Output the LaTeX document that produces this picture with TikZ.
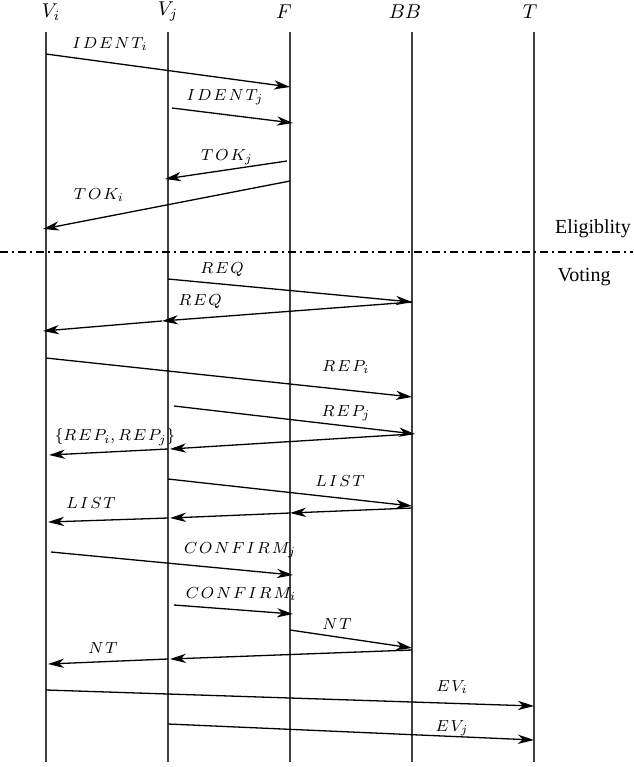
\documentclass[tikz,border=0pt]{standalone}
\usepackage{fontspec}
\usetikzlibrary{arrows.meta,calc}
\newfontfamily\phasefont{Liberation Serif}
\newcommand{\ls}{\mkern2mu}
\tikzset{
    life/.style={line width=0.6pt, black!75},
    msg/.style={line width=0.65pt, -{Stealth[length=8pt, width=4.6pt, inset=2.4pt]}},
    lbl/.style={font=\fontsize{8.3}{10}\selectfont, inner sep=1pt},
    phase/.style={font=\phasefont, inner sep=1pt}
}
\begin{document}
\begin{tikzpicture}[x=0.5pt, y=-0.5pt]
    \useasboundingbox (0,0) rectangle (633,767);
    \foreach \n/\x/\dx/\lab in {Vi/46/5/V_i, Vj/168/0/V_j, F/290/-6/F, BB/412/-7/BB, T/534/-4/T} {
        \node (\n) at (\x,12) {};
        \node (\n lab) at (\x+\dx,12) {$\lab$};
        \draw[life] (\x,32) -- (\x,762);
    }
    \draw[line width=0.6pt, dash pattern=on 4pt off 2pt on 1pt off 2pt] (0,252) -- (633,252);
    \node[phase] (elig) at (593,229) {Eligiblity};
    \node[phase] (vote) at (584,277) {Voting};
    \foreach \a/\da/\ya/\b/\db/\yb in {
            Vi/0/54/F/0/87, Vj/4/108/F/3/123, F/-3/161/Vj/-3/179, F/0/181/Vi/-3/229,
            Vj/0/279/BB/0/302, BB/0/302/Vj/-6/321, Vj/-6/321/Vi/-3/331,
            Vi/0/358/BB/0/397, Vj/6/406/BB/3/434, BB/0/434/Vj/2/449, Vj/0/449/Vi/3/455,
            Vj/0/479/BB/0/506, BB/0/508/F/0/513, F/0/513/Vj/2/518, Vj/0/518/Vi/2/522,
            Vi/5/552/F/3/575, Vj/6/605/F/3/614, F/0/630/BB/0/648, BB/0/650/Vj/2/659,
            Vj/0/659/Vi/2/664, Vi/0/690/T/0/706, Vj/0/724/T/0/740} {
        \draw[msg] ($(\a |- 0,\ya)+(\da,0)$) -- ($(\b |- 0,\yb)+(\db,0)$);
    }
    \node[lbl] (IDi) at (110,44) {$I\ls D\ls E\ls N\ls T_i$};
    \node[lbl] (IDj) at (225,97) {$I\ls D\ls E\ls N\ls T_j$};
    \node[lbl] (TOKj) at (227,157) {$T\ls O\ls K_j$};
    \node[lbl] (TOKi) at (99,195) {$T\ls O\ls K_i$};
    \node[lbl] (REQa) at (222,270) {$R\ls E\ls Q$};
    \node[lbl] (REQb) at (200,302) {$R\ls E\ls Q$};
    \node[lbl] (REPi) at (346,367) {$R\ls E\ls P_i$};
    \node[lbl] (REPj) at (346,413) {$R\ls E\ls P_j$};
    \node[lbl] (REPij) at (115,437) {$\{R\ls E\ls P_i, R\ls E\ls P_j\}$};
    \node[lbl] (LISTa) at (340,481) {$L\ls I\ls S\ls T$};
    \node[lbl] (LISTb) at (91,503) {$L\ls I\ls S\ls T$};
    \node[lbl] (CONFj) at (240,550) {$C\ls O\ls N\ls F\ls I\ls R\ls M_j$};
    \node[lbl] (CONFi) at (241,594) {$C\ls O\ls N\ls F\ls I\ls R\ls M_i$};
    \node[lbl] (NTa) at (337,624) {$N\ls T$};
    \node[lbl] (NTb) at (103,648) {$N\ls T$};
    \node[lbl] (EVi) at (452,687) {$E\ls V_i$};
    \node[lbl] (EVj) at (452,728) {$E\ls V_j$};
\end{tikzpicture}
\end{document}
